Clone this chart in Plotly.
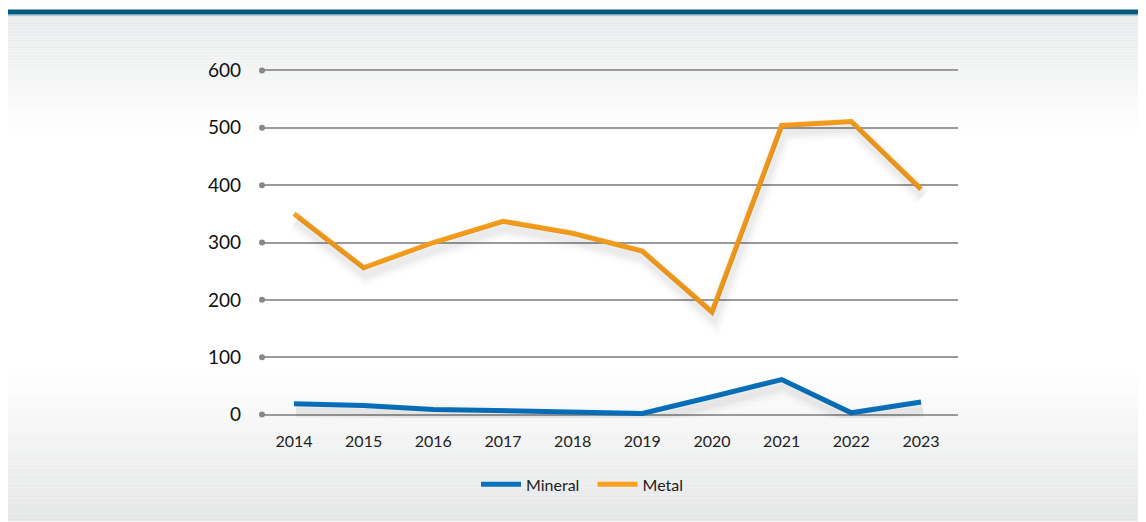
import plotly.graph_objects as go

years = ["2014", "2015", "2016", "2017", "2018", "2019", "2020", "2021", "2022", "2023"]
mineral = [19, 16, 9, 7, 4, 2, 31, 61, 3, 22]
metal = [350, 256, 300, 337, 316, 285, 179, 504, 511, 393]
y_ticks = [0, 100, 200, 300, 400, 500, 600]

OFF = 8  # page body margin offset
W, H = 1146 - OFF, 522 - OFF
L, R, T, B = 262 - OFF, 958 - OFF, 70 - OFF, 415 - OFF
YMIN, YMAX = -6.0, 606.0
scale = (415 - 70) / 600.0  # px per unit
T = T - (YMAX - 600) * scale
B = B + (0 - YMIN) * scale
XR = [-0.459, 9.531]
xscale = (R - L) / (XR[1] - XR[0])


def px(x):
    return (x - OFF - L) / (R - L)


def py(y):
    return (B - (y - OFF)) / (B - T)


def mix(c1, c2, t):
    return "rgb(%d,%d,%d)" % tuple(round(a + (b - a) * t) for a, b in zip(c1, c2))


shapes = []
gray_top = (232, 234, 235)
gray_bot = (229, 230, 231)
white = (255, 255, 255)
n = 40
y_start, y_end = 15, 135
for i in range(n):
    a = y_start + (y_end - y_start) * i / n
    b = y_start + (y_end - y_start) * (i + 1) / n
    shapes.append(dict(type="rect", xref="paper", yref="paper", x0=px(8), x1=px(1142), y0=py(a), y1=py(b),
                       fillcolor=mix(gray_top, white, (i + 0.5) / n), line_width=0, layer="below"))
y_start, y_end = 370, 522
for i in range(n):
    a = y_start + (y_end - y_start) * i / n
    b = y_start + (y_end - y_start) * (i + 1) / n
    shapes.append(dict(type="rect", xref="paper", yref="paper", x0=px(8), x1=px(1142), y0=py(a), y1=py(b),
                       fillcolor=mix(white, gray_bot, (i + 0.5) / n), line_width=0, layer="below"))
shapes.append(dict(type="rect", xref="paper", yref="paper", x0=px(8), x1=px(1142), y0=py(9), y1=py(14),
                   fillcolor="#035a80", line_width=0, layer="below"))
shapes.append(dict(type="rect", xref="paper", yref="paper", x0=px(8), x1=px(1142), y0=py(14), y1=py(15),
                   fillcolor="#6fa3bd", line_width=0, layer="below"))
for v in y_ticks:
    shapes.append(dict(type="circle", xref="paper", yref="y", xsizemode="pixel", ysizemode="pixel",
                       xanchor=0, yanchor=v, x0=-3, x1=3, y0=-3, y1=3,
                       fillcolor="#888888", line_width=0))

fig = go.Figure()
# soft drop shadows (drawn on a slightly shifted overlay axis pair)
for series in (mineral, metal):
    for w, a in ((22, 0.012), (16, 0.018), (11, 0.022), (7, 0.025)):
        fig.add_trace(go.Scatter(x=years, y=series, mode="lines", showlegend=False, hoverinfo="skip",
                                 line=dict(color="rgba(0,0,0,%g)" % a, width=w), cliponaxis=False,
                                 xaxis="x2", yaxis="y2"))
fig.add_trace(go.Scatter(x=years, y=mineral, name="Mineral\u00a0\u00a0", mode="lines",
                         line=dict(color="#0a72bd", width=5), cliponaxis=False))
fig.add_trace(go.Scatter(x=years, y=metal, name="Metal", mode="lines",
                         line=dict(color="#f8a01f", width=5), cliponaxis=False))

dx_px, dy_px = 2, 7
font = "Lato, Carlito, Calibri, sans-serif"
fig.update_layout(
    width=W, height=H,
    margin=dict(l=L, r=W - R, t=T, b=H - B, pad=0),
    paper_bgcolor="white",
    plot_bgcolor="rgba(0,0,0,0)",
    shapes=shapes,
    showlegend=True,
    legend=dict(orientation="h", x=px(476), xanchor="left", y=py(485), yanchor="middle",
                font=dict(family=font, size=16, color="#222"), bgcolor="rgba(0,0,0,0)",
                itemwidth=40, traceorder="normal"),
    xaxis=dict(type="category", categoryarray=years, range=XR, showgrid=False, showline=False, zeroline=False,
               ticks="", tickfont=dict(family=font, size=16, color="#222"), ticklabelstandoff=12,
               fixedrange=True),
    yaxis=dict(range=[YMIN, YMAX], tickvals=y_ticks, showgrid=True, gridcolor="#9a9a9a", gridwidth=1.5,
               zeroline=False, showline=False, ticks="",
               tickfont=dict(family=font, size=19, color="#111"), ticklabelstandoff=20,
               fixedrange=True),
    xaxis2=dict(type="category", categoryarray=years, overlaying="x",
                range=[XR[0] - dx_px / xscale, XR[1] - dx_px / xscale], visible=False, fixedrange=True),
    yaxis2=dict(overlaying="y", range=[YMIN + dy_px / scale, YMAX + dy_px / scale], visible=False,
                fixedrange=True),
)

fig.write_html("out.html")
